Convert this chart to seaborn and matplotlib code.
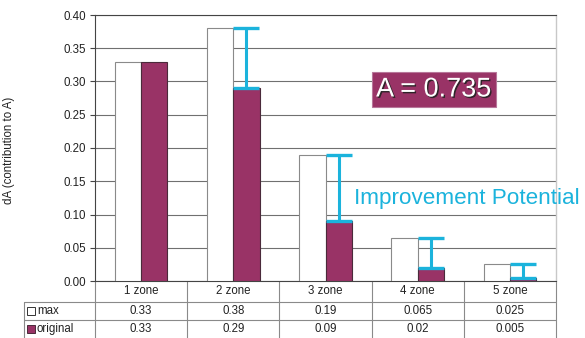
import numpy as np
import pandas as pd
import matplotlib
matplotlib.use("Agg")
import matplotlib.pyplot as plt
import matplotlib.transforms as mtransforms
import matplotlib.patheffects as pe
from matplotlib.patches import Rectangle
import seaborn as sns

# Contribution of each zone count to total A
zones = ["1 zone", "2 zone", "3 zone", "4 zone", "5 zone"]
max_vals = [0.33, 0.38, 0.19, 0.065, 0.025]
orig_vals = [0.33, 0.29, 0.09, 0.02, 0.005]
max_labels = ["0.33", "0.38", "0.19", "0.065", "0.025"]
orig_labels = ["0.33", "0.29", "0.09", "0.02", "0.005"]
series = ["max", "original"]
total_label = "A = 0.735"

PLUM = "#993366"
CYAN = "#1BB3DC"

sns.set_theme(style="white")
plt.rcParams["font.family"] = ["Liberation Sans", "DejaVu Sans"]

df = pd.DataFrame({
    "zone": zones * 2,
    "value": max_vals + orig_vals,
    "series": [series[0]] * len(zones) + [series[1]] * len(zones),
})

fig = plt.figure(figsize=(5.85, 3.38), dpi=100)
ax = fig.add_axes([95 / 585, 1 - 281 / 338, 461 / 585, 266 / 338])

sns.barplot(data=df, x="zone", y="value", hue="series", order=zones,
            hue_order=series, palette={"max": "white", "original": PLUM},
            width=0.57, gap=0, saturation=1, legend=False, ax=ax, zorder=3)

# outline colours per series
n = len(zones)
for i, p in enumerate(ax.patches[:2 * n]):
    if i < n:
        p.set_edgecolor("#8a8a8a")
    else:
        p.set_edgecolor("#4a2a3a")
    p.set_linewidth(0.8)

# improvement potential: from original value up to max value (only where a gap exists)
gap_idx = [i for i in range(n) if max_vals[i] > orig_vals[i]]
xpos = np.array(gap_idx) + 0.1425
ax.errorbar(xpos, [(max_vals[i] + orig_vals[i]) / 2 for i in gap_idx],
            yerr=[(max_vals[i] - orig_vals[i]) / 2 for i in gap_idx],
            fmt="none", ecolor=CYAN, elinewidth=2.2, capsize=9.4,
            capthick=2.4, zorder=4)

ax.set_ylim(0, 0.40)
ax.set_xlim(-0.5, n - 0.5)
ax.set_yticks(np.arange(0, 0.401, 0.05))
ax.set_yticklabels([f"{v:.2f}" for v in np.arange(0, 0.401, 0.05)],
                   fontsize=8.3, color="#222222")
ax.tick_params(axis="y", left=True, length=3.5, width=0.8, color="#444444", pad=3)
ax.set_xticks([])
ax.set_xlabel("")
ax.set_ylabel("")
fig.text(9 / 585, 1 - 150 / 338, "dA (contribution to A)", rotation=90,
         ha="center", va="center", fontsize=8.3, color="#222222")
ax.yaxis.grid(True, color="#707070", linewidth=0.8, zorder=0)
ax.set_axisbelow(True)
for side in ["left", "bottom", "top"]:
    ax.spines[side].set_color("#444444")
    ax.spines[side].set_linewidth(0.8)
ax.spines["right"].set_color("#c8c8c8")
ax.spines["right"].set_linewidth(1.0)

# annotations
ax.text(0.735, 0.72, total_label, transform=ax.transAxes, ha="center",
        va="center", fontsize=19.5, color="white",
        path_effects=[pe.withSimplePatchShadow(offset=(1, -1), shadow_rgbFace="#222222", alpha=0.9)],
        bbox=dict(boxstyle="square,pad=0.16", facecolor=PLUM, edgecolor="#b7779a", linewidth=0.8),
        zorder=6)
ax.text(0.562, 0.312, "Improvement Potential", transform=ax.transAxes,
        ha="left", va="center", fontsize=16.2, color=CYAN, clip_on=False, zorder=6)

# data table under the axis
trans = mtransforms.blended_transform_factory(ax.transData, ax.transAxes)
ah = 266.0
y_hdr = -21 / ah
y_max = -39 / ah
y_org = -57 / ah
x_left = -0.5 - 71 / 92.2
lc = "#8a8a8a"
lw = 0.8

def hline(x0, x1, y):
    ax.plot([x0, x1], [y, y], color=lc, lw=lw, transform=trans, clip_on=False)

def vline(x, y0, y1):
    ax.plot([x, x], [y0, y1], color=lc, lw=lw, transform=trans, clip_on=False)

hline(x_left, n - 0.5, y_hdr)
hline(x_left, n - 0.5, y_max)
vline(x_left, y_hdr, y_org)
for b in np.arange(n + 1) - 0.5:
    vline(b, 0, y_org)

fs = 8.3
for i in range(n):
    ax.text(i, (0 + y_hdr) / 2, zones[i], transform=trans, ha="center",
            va="center", fontsize=fs, color="#222222", clip_on=False)
    ax.text(i, (y_hdr + y_max) / 2, max_labels[i], transform=trans,
            ha="center", va="center", fontsize=fs, color="#222222", clip_on=False)
    ax.text(i, (y_max + y_org) / 2, orig_labels[i], transform=trans,
            ha="center", va="center", fontsize=fs, color="#222222", clip_on=False)

# row labels with series swatches
sw_w = 8 / 92.2
sw_h = 8 / ah
for (lab, fc, ec), yc in zip([(series[0], "white", "#333333"),
                             (series[1], PLUM, "#4a2a3a")],
                            [(y_hdr + y_max) / 2, (y_max + y_org) / 2]):
    ax.add_patch(Rectangle((x_left + 3 / 92.2, yc - sw_h / 2), sw_w, sw_h,
                           facecolor=fc, edgecolor=ec, lw=0.7,
                           transform=trans, clip_on=False))
    ax.text(x_left + 13 / 92.2, yc, lab, transform=trans, ha="left",
            va="center", fontsize=fs, color="#222222", clip_on=False)

fig.savefig("out.png", dpi=100)
